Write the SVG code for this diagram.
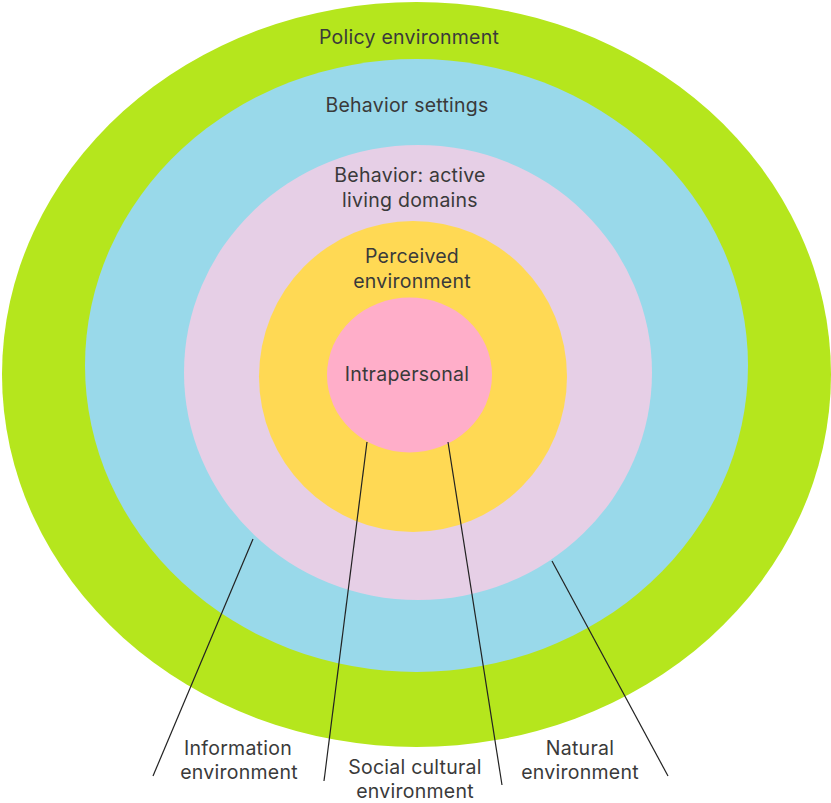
<svg xmlns="http://www.w3.org/2000/svg" width="831" height="803" viewBox="0 0 831 803">
  <style>
    text { font-family: Inter, "Noto Sans", "Liberation Sans", sans-serif; font-size: 19.5px; letter-spacing: 0.25px; fill: #3a3a3a; text-anchor: middle; }
    .conn { stroke: #222; stroke-width: 1.2; fill: none; }
  </style>
  <rect width="831" height="803" fill="#ffffff"/>

  <!-- concentric levels, outermost first -->
  <g id="policy">
    <ellipse cx="416.5" cy="374.5" rx="414.5" ry="372.5" fill="#B5E61D"/>
    <text x="409" y="44">Policy environment</text>
  </g>
  <g id="settings">
    <ellipse cx="416.5" cy="365.5" rx="331.5" ry="306.5" fill="#99D9EA"/>
    <text x="407" y="112">Behavior settings</text>
  </g>
  <g id="behavior">
    <ellipse cx="418" cy="372.5" rx="234" ry="227.5" fill="#E6CFE6"/>
    <text x="410" y="182">Behavior: active</text>
    <text x="410" y="207">living domains</text>
  </g>
  <g id="perceived">
    <ellipse cx="413" cy="376.5" rx="154" ry="155.5" fill="#FFD954"/>
    <text x="412" y="263">Perceived</text>
    <text x="412" y="288">environment</text>
  </g>
  <g id="intrapersonal">
    <ellipse cx="409.5" cy="375" rx="82.5" ry="77.5" fill="#FFAEC9"/>
    <text x="407" y="381">Intrapersonal</text>
  </g>

  <!-- leader lines to the environment labels -->
  <g id="connectors">
    <line class="conn" x1="253" y1="539" x2="153" y2="776"/>
    <line class="conn" x1="367" y1="442" x2="324" y2="781"/>
    <line class="conn" x1="448" y1="442" x2="502" y2="785"/>
    <line class="conn" x1="552" y1="561" x2="668" y2="776"/>
  </g>

  <g id="information">
    <text x="238" y="755">Information</text>
    <text x="239" y="779">environment</text>
  </g>
  <g id="social">
    <text x="415" y="773.5">Social cultural</text>
    <text x="415" y="797.5">environment</text>
  </g>
  <g id="natural">
    <text x="580" y="755">Natural</text>
    <text x="580" y="779">environment</text>
  </g>
</svg>
